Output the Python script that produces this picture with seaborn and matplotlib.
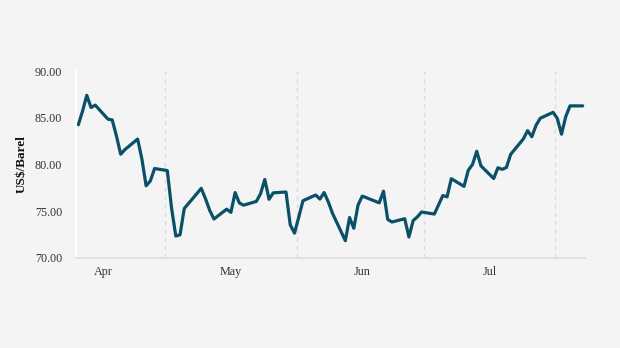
import matplotlib
matplotlib.use("Agg")
import matplotlib.pyplot as plt
import matplotlib.dates as mdates
import seaborn as sns
import pandas as pd
import numpy as np

dates = [
    "2023-04-10", "2023-04-11", "2023-04-12", "2023-04-13", "2023-04-14",
    "2023-04-17", "2023-04-18", "2023-04-19", "2023-04-20", "2023-04-21",
    "2023-04-24", "2023-04-25", "2023-04-26", "2023-04-27", "2023-04-28",
    "2023-05-01", "2023-05-02", "2023-05-03", "2023-05-04", "2023-05-05",
    "2023-05-08", "2023-05-09", "2023-05-10", "2023-05-11", "2023-05-12",
    "2023-05-15", "2023-05-16", "2023-05-17", "2023-05-18", "2023-05-19",
    "2023-05-22", "2023-05-23", "2023-05-24", "2023-05-25", "2023-05-26",
    "2023-05-29", "2023-05-30", "2023-05-31",
    "2023-06-01", "2023-06-02", "2023-06-05", "2023-06-06", "2023-06-07",
    "2023-06-08", "2023-06-09", "2023-06-12", "2023-06-13", "2023-06-14",
    "2023-06-15", "2023-06-16", "2023-06-19", "2023-06-20", "2023-06-21",
    "2023-06-22", "2023-06-23", "2023-06-26", "2023-06-27", "2023-06-28",
    "2023-06-29", "2023-06-30",
    "2023-07-03", "2023-07-05", "2023-07-06", "2023-07-07", "2023-07-10",
    "2023-07-11", "2023-07-12", "2023-07-13", "2023-07-14", "2023-07-17",
    "2023-07-18", "2023-07-19", "2023-07-20", "2023-07-21", "2023-07-24",
    "2023-07-25", "2023-07-26", "2023-07-27", "2023-07-28", "2023-07-31",
    "2023-08-01", "2023-08-02", "2023-08-03", "2023-08-04", "2023-08-07",
]
prices = [
    84.25, 85.70, 87.40, 86.10, 86.35,
    84.85, 84.77, 83.05, 81.10, 81.60,
    82.72, 80.60, 77.72, 78.25, 79.57,
    79.35, 75.35, 72.35, 72.48, 75.30,
    76.90, 77.45, 76.35, 75.10, 74.17,
    75.22, 74.88, 77.00, 75.88, 75.65,
    76.05, 76.88, 78.40, 76.28, 76.97,
    77.06, 73.55, 72.66,
    74.35, 76.12, 76.74, 76.30, 77.00,
    75.98, 74.75, 71.85, 74.33, 73.18,
    75.67, 76.62, 76.08, 75.90, 77.15,
    74.12, 73.85, 74.20, 72.25, 74.00,
    74.40, 74.92,
    74.70, 76.68, 76.54, 78.48, 77.66,
    79.38, 80.00, 81.42, 79.85, 78.50,
    79.65, 79.48, 79.68, 81.08, 82.74,
    83.62, 82.97, 84.20, 84.95, 85.58,
    84.94, 83.24, 85.12, 86.27, 86.27,
]
month_labels = ["Apr", "May", "Jun", "Jul"]
y_ticks = [70, 75, 80, 85, 90]

BG = "#f4f4f4"
LINE = "#0a5069"
TEXT = "#333333"

df = pd.DataFrame({"date": pd.to_datetime(dates), "price": prices})

sns.set_theme(style="white")
plt.rcParams["font.family"] = ["Liberation Serif", "DejaVu Serif"]

fig = plt.figure(figsize=(6.2, 3.48), dpi=100, facecolor=BG)
ax = fig.add_axes([76 / 620, 1 - 258 / 348, (585 - 76) / 620, (258 - 71) / 348])
ax.set_facecolor(BG)

sns.lineplot(data=df, x="date", y="price", ax=ax, color=LINE, linewidth=2.3)

half = pd.Timedelta(hours=12)
ax.set_xlim(pd.Timestamp("2023-04-10") - pd.Timedelta(hours=13),
            pd.Timestamp("2023-08-07") + pd.Timedelta(hours=13))
ax.set_ylim(70, 90)

# month boundaries: minor ticks with dashed grid
bounds = pd.to_datetime(["2023-05-01", "2023-06-01", "2023-07-01", "2023-08-01"]) - half
ax.set_xticks(bounds, minor=True)
mids = pd.to_datetime(["2023-04-16", "2023-05-16", "2023-06-16", "2023-07-16"])
ax.set_xticks(mids)
ax.set_xticklabels(month_labels)
ax.grid(False)
ax.grid(True, which="minor", axis="x", color="#dadada", linestyle=(0, (3, 3)), linewidth=1.0)
ax.tick_params(axis="x", which="major", length=0, pad=6, labelsize=8.7, labelcolor=TEXT)
ax.tick_params(axis="x", which="minor", length=4, width=1.0, color="#dadada")

ax.set_yticks(y_ticks)
ax.set_yticklabels([f"{v:.2f}" for v in y_ticks])
ax.tick_params(axis="y", length=5, width=1.2, color="white", pad=5, labelsize=8.7, labelcolor=TEXT)

for s in ["top", "right"]:
    ax.spines[s].set_visible(False)
ax.spines["left"].set_color("white")
ax.spines["left"].set_linewidth(1.5)
ax.spines["bottom"].set_color("#e2e2e2")
ax.spines["bottom"].set_linewidth(1.5)

ax.set_xlabel("")
ax.set_ylabel("US$/Barel", fontsize=9.5, fontweight="bold", color="#111111", labelpad=5)

fig.savefig("out.png", dpi=100, facecolor=BG)
